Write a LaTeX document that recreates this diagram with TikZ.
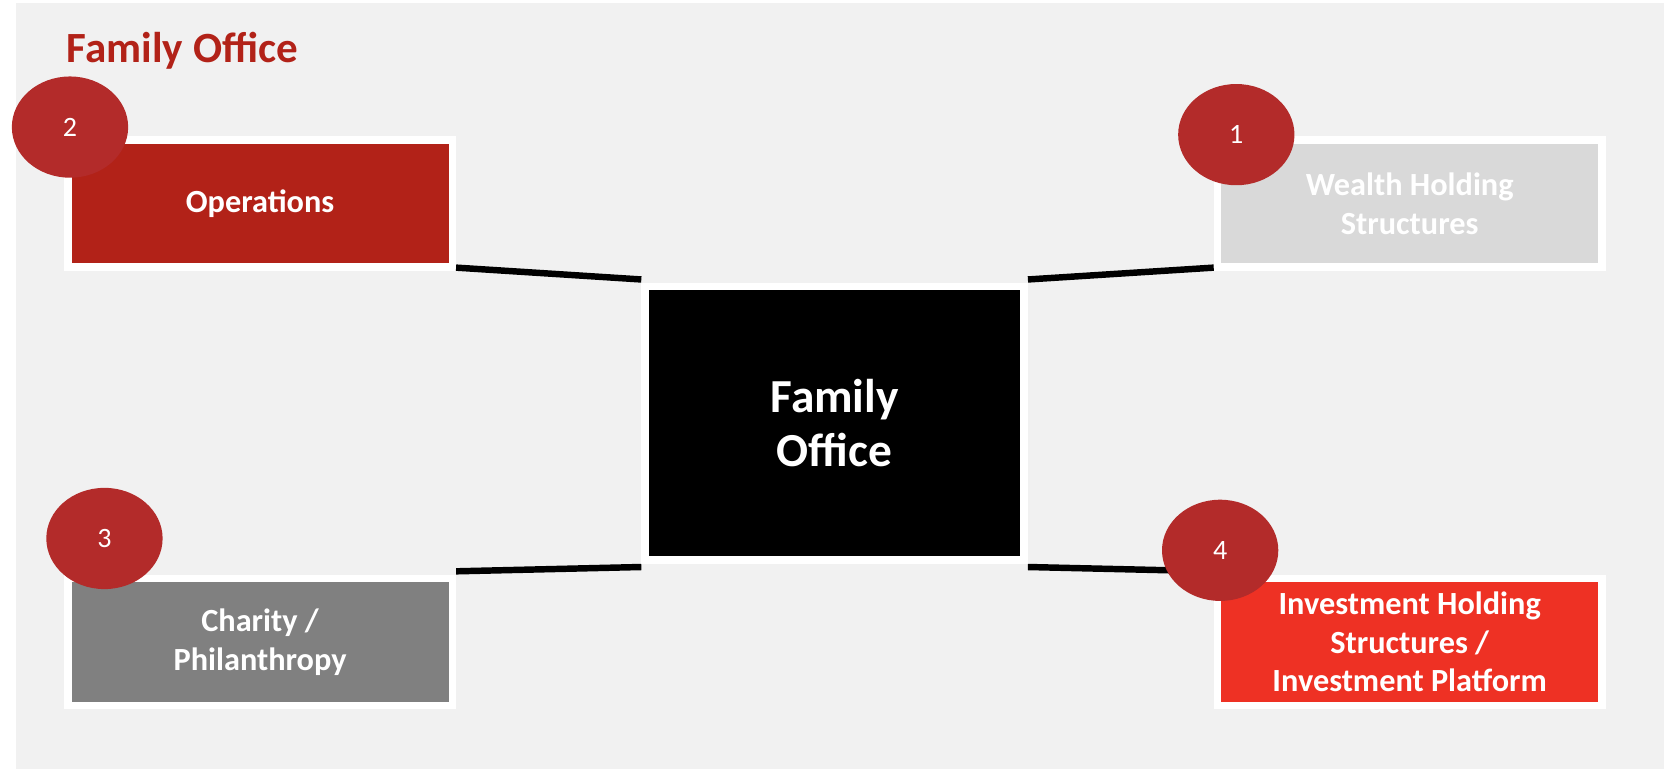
\documentclass[tikz,border=0pt]{standalone}
\usepackage{fontspec}
\usetikzlibrary{shapes.geometric}
\setmainfont{Carlito}
\begin{document}
\begin{tikzpicture}[x=0.5pt,y=-0.5pt,
  box/.style={draw=white,line width=3.5pt,minimum width=357*0.5pt,minimum height=118*0.5pt,align=center,text=white,font=\fontsize{15}{18}\selectfont\bfseries,inner sep=0pt},
  num/.style={ellipse,fill=numred,minimum width=108*0.5pt,minimum height=94*0.5pt,text=white,font=\fontsize{13}{15}\selectfont,inner sep=0pt},
  conn/.style={line width=3pt,black}]
\definecolor{bg}{HTML}{F1F1F1}
\definecolor{numred}{HTML}{B32B2A}
\definecolor{opsred}{HTML}{B22218}
\definecolor{invred}{HTML}{EE3124}
\definecolor{lgray}{HTML}{D9D9D9}
\definecolor{dgray}{HTML}{808080}
\useasboundingbox (0,0) rectangle (1560,714);
\fill[white] (0,0) rectangle (1560,714);
\fill[bg] (15,3) rectangle (1545,715);
\node[anchor=west,text=opsred,font=\fontsize{20}{24}\selectfont\bfseries] (title) at (55,47) {Family Office};
\node[box,fill=opsred] (ops) at (241.5,189) {Operations};
\node[box,fill=lgray] (wealth) at (1309,189) {Wealth Holding\\Structures};
\node[box,fill=dgray] (char) at (241.5,596) {Charity /\\Philanthropy};
\node[box,fill=invred] (inv) at (1309,596) {Investment Holding\\Structures /\\Investment Platform};
\node[box,fill=black,minimum width=352*0.5pt,minimum height=254*0.5pt,font=\fontsize{22}{25}\selectfont\bfseries] (fo) at (775,393) {Family\\Office};
\path (ops.south east)++(0,-3) coordinate (a1);
\path (fo.north west)++(0,-3) coordinate (a2);
\path (fo.north east)++(0,-3) coordinate (b1);
\path (wealth.south west)++(0,-3) coordinate (b2);
\path (char.north east)++(0,-3) coordinate (c1);
\path (fo.south west)++(0,3) coordinate (c2);
\path (fo.south east)++(0,3) coordinate (d1);
\path (inv.north west)++(0,-3) coordinate (d2);
\draw[conn] (a1) -- (a2);
\draw[conn] (b1) -- (b2);
\draw[conn] (c1) -- (c2);
\draw[conn] (d1) -- (d2);
\node[num] (n2) at (65,118) {2};
\node[num] (n1) at (1148,125) {1};
\node[num] (n3) at (97,500) {3};
\node[num] (n4) at (1133,511) {4};
\end{tikzpicture}
\end{document}
